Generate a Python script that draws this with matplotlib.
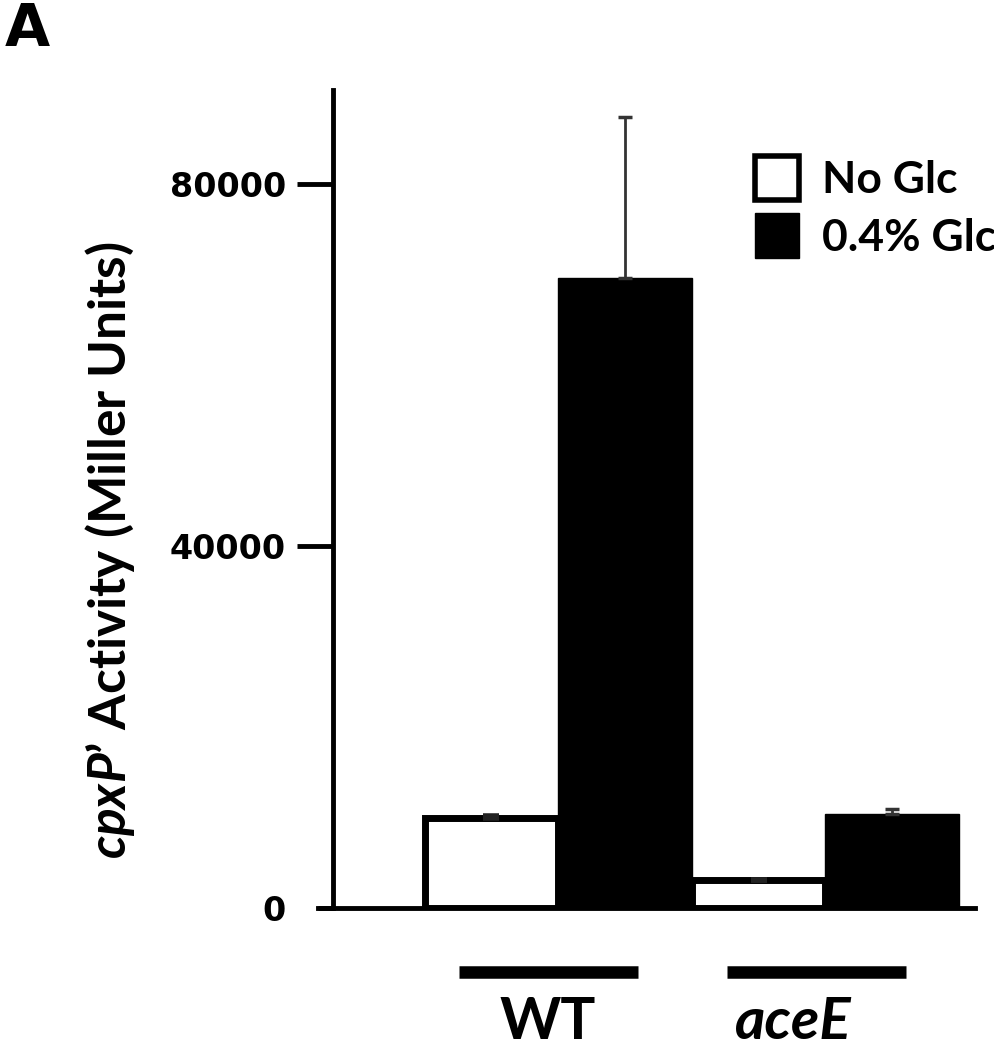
import matplotlib.pyplot as plt
import numpy as np
from matplotlib.patches import Patch
import matplotlib.transforms as mtransforms

plt.rcParams['font.family'] = ['Lato', 'DejaVu Sans']
plt.rcParams['mathtext.fontset'] = 'custom'
plt.rcParams['mathtext.rm'] = 'Lato:bold'
plt.rcParams['mathtext.it'] = 'Lato:italic:bold'

# data
strains = ['WT', 'aceE']
no_glc = [9950, 3100]
no_glc_err = [300, 0]
glc = [69700, 10400]
glc_err = [17700, 550]
yticks = [40000, 80000]

x = np.arange(len(strains))
w = 0.5

fig = plt.figure(figsize=(9.94, 10.5), dpi=100)
ax = fig.add_axes([0.335, 0.135, 0.646, 0.779])

ax.bar(x - w / 2, no_glc, w, color='white', edgecolor='black', linewidth=5, zorder=2)
ax.bar(x + w / 2, glc, w, color='black', edgecolor='black', linewidth=1, zorder=2)
ax.errorbar(x - w / 2, no_glc, yerr=[np.zeros(2), no_glc_err], fmt='none',
            ecolor='#222222', elinewidth=2.5, capsize=6, capthick=4, zorder=3)
ax.errorbar(x + w / 2, glc, yerr=[np.zeros(2), glc_err], fmt='none',
            ecolor='#333333', elinewidth=2, capsize=5, capthick=2.5, zorder=3)

ax.set_xlim(-0.843, 1.56)
ax.set_ylim(0, 90400)
ax.spines['top'].set_visible(False)
ax.spines['right'].set_visible(False)
ax.spines['left'].set_linewidth(3.5)
ax.spines['bottom'].set_linewidth(3.5)
ax.spines['bottom'].set_bounds(-0.9, 1.56)
ax.set_xticks([])
ax.set_yticks(yticks)
ax.set_yticklabels([str(v) for v in yticks], family='DejaVu Sans', fontweight='bold', fontsize=24)
ax.tick_params(axis='y', length=26, width=3.5, pad=8)
ax.set_yticks([0], minor=True)
ax.set_yticklabels(['0'], minor=True, family='DejaVu Sans', fontweight='bold', fontsize=24)
ax.tick_params(axis='y', which='minor', length=11, width=3.5, pad=23)

ax.set_ylabel("$\\mathit{cpxP’}$ Activity (Miller Units)", fontsize=37, fontweight='bold')
ax.yaxis.set_label_coords(-0.305, 0.438)

# strain bars and labels under the axis
trans = mtransforms.blended_transform_factory(ax.transData, ax.transAxes)
for i, s in enumerate(strains):
    ax.plot([x[i] - 0.37, x[i] + 0.30], [-0.078, -0.078], color='black', lw=9,
            solid_capstyle='butt', transform=trans, clip_on=False)
    ax.text(x[i] - 0.04 - 0.08 * i, -0.14, s, transform=trans, ha='center', va='center',
            fontsize=42, fontweight='bold', style='italic' if i == 1 else 'normal')

handles = [Patch(facecolor='white', edgecolor='black', linewidth=4),
           Patch(facecolor='black', edgecolor='black')]
ax.legend(handles, ['No Glc', '0.4% Glc'], loc='upper left',
          bbox_to_anchor=(755 / 994, 1 - 156 / 1050), bbox_transform=fig.transFigure,
          frameon=False, borderpad=0, borderaxespad=0, handlelength=1.0, handleheight=1.15,
          handletextpad=0.5, labelspacing=0.3, prop={'family': 'Lato', 'weight': 'bold', 'size': 32})

fig.text(0.005, 0.999, 'A', fontsize=42, fontweight='bold', family='DejaVu Sans', va='top')

fig.savefig('out.png', dpi=100)
